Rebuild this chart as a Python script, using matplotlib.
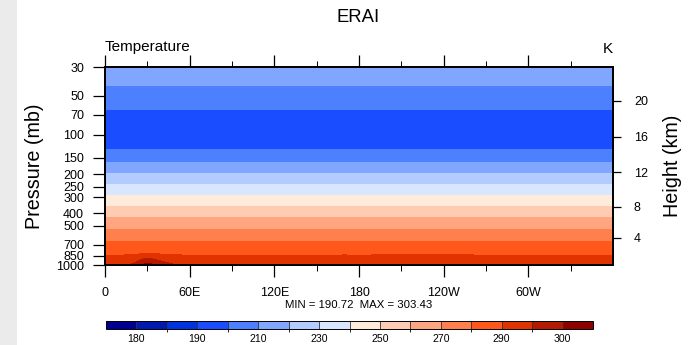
import numpy as np
import matplotlib
matplotlib.use("Agg")
import matplotlib.pyplot as plt
from matplotlib.colors import ListedColormap, BoundaryNorm
from matplotlib.patches import Rectangle

plt.rcParams["font.family"] = ["Liberation Sans", "DejaVu Sans"]

pres = [30, 50, 70, 100, 125, 150, 175, 200, 225, 250, 300, 350, 400, 450, 500,
        550, 600, 650, 700, 750, 775, 800, 825, 850, 875, 900, 925, 950, 975, 1000]
t_mean = [217.5, 206.0, 198.0, 191.5, 199.0, 206.5, 213.8, 220.8, 227.1, 232.6,
          241.9, 249.9, 256.9, 262.7, 267.5, 271.8, 275.7, 279.2, 282.4, 285.3,
          286.7, 288.0, 289.3, 290.6, 291.4, 292.1, 292.7, 293.3, 293.8, 294.3]

# longitudes and near-surface anomaly (warm spot over East Africa)
lon = list(range(0, 361, 10))
t_anom_sfc = [-0.6, -0.3, 0.8, 4.6, 2.0, 0.3, -0.2, -0.3, -0.3, -0.2,
              -0.1, 0.0, 0.0, -0.1, -0.2, 0.0, 0.0, 0.1, 0.0, 0.1,
              0.2, 0.3, 0.3, 0.2, 0.3, 0.2, 0.1, 0.0, 0.0, -0.1,
              -0.2, -0.2, -0.3, -0.3, -0.4, -0.5, -0.6]
sfc_weight = [0, 0, 0, 0, 0, 0, 0, 0, 0, 0, 0, 0, 0, 0, 0,
              0, 0, 0, 0, 0, 0.1, 0.25, 0.35, 0.45, 0.6, 0.8, 0.95, 1.1, 1.5, 1.95]

levels = [180, 185, 190, 200, 210, 220, 230, 240, 250, 260, 270, 280, 290, 295, 300]
colors = ["#000090", "#0019b0", "#0033e0", "#1a4dff", "#4d80ff", "#80a6ff",
          "#b3ccff", "#d9e6ff", "#ffebd9", "#ffccb3", "#ffa680", "#ff804d",
          "#ff581a", "#e03300", "#b31a00", "#8c0000"]
cbar_ticks = [180, 190, 210, 230, 250, 270, 290, 300]

p_ticks = [30, 50, 70, 100, 150, 200, 250, 300, 400, 500, 700, 850, 1000]
lon_ticks = [0, 60, 120, 180, 240, 300]
lon_minor = [30, 90, 150, 210, 270, 330]
lon_labels = ["0", "60E", "120E", "180", "120W", "60W"]
hgt_ticks = [4, 8, 12, 16, 20]


def std_pres(z_km):
    z = z_km * 1000.0
    if z <= 11000:
        return 1013.25 * (1 - 2.25577e-5 * z) ** 5.25588
    return 226.32 * np.exp(-1.5769e-4 * (z - 11000))


T = np.array(t_mean)[:, None] + np.array(sfc_weight)[:, None] * np.array(t_anom_sfc)[None, :]
logp = np.log10(pres)

W, H = 690, 345
fig = plt.figure(figsize=(6.9, 3.45), dpi=100)
fig.add_artist(Rectangle((0, 0), 17 / W, 1, transform=fig.transFigure,
                         facecolor="#ebebeb", edgecolor="none", zorder=-1))

ax = fig.add_axes([105 / W, 1 - 265 / H, 508 / W, 198 / H])
cmap = ListedColormap(colors[1:-1])
cmap.set_under(colors[0])
cmap.set_over(colors[-1])
norm = BoundaryNorm(levels, cmap.N)
cf = ax.contourf(lon, logp, T, levels=levels, cmap=cmap, norm=norm, extend="both")

ax.set_xlim(0, 360)
ax.set_ylim(np.log10(1000), np.log10(30))
ax.set_xticks(lon_ticks)
ax.set_xticklabels(lon_labels)
ax.set_xticks(lon_minor, minor=True)
ax.set_yticks(np.log10(p_ticks))
ax.set_yticklabels([str(p) for p in p_ticks])
ax.tick_params(axis="x", which="major", direction="out", top=True, length=8.5,
               width=0.9, pad=7, labelsize=9)
ax.tick_params(axis="x", which="minor", direction="out", top=True, length=4,
               width=0.7)
ax.tick_params(axis="y", direction="out", length=8.5, width=0.9, pad=6.5, labelsize=9)
for s in ax.spines.values():
    s.set_linewidth(1.3)

ax2 = ax.twinx()
ax2.set_ylim(ax.get_ylim())
ax2.set_yticks([np.log10(std_pres(z)) for z in hgt_ticks])
ax2.set_yticklabels([str(z) for z in hgt_ticks])
ax2.tick_params(axis="y", direction="out", length=6, width=0.9, pad=9, labelsize=9)
for s in ax2.spines.values():
    s.set_linewidth(1.3)

fig.text(358.5 / W, 1 - 18 / H, "ERAI", ha="center", va="center", fontsize=13.3)
fig.text(105 / W, 1 - 51 / H, "Temperature", ha="left", va="baseline", fontsize=11)
fig.text(613 / W, 1 - 53 / H, "K", ha="right", va="baseline", fontsize=11)
fig.text(34 / W, 1 - 166 / H, "Pressure (mb)", ha="center", va="center",
         rotation=90, fontsize=14.2)
fig.text(672 / W, 1 - 166 / H, "Height (km)", ha="center", va="center",
         rotation=90, fontsize=14.2)
fig.text(358.5 / W, 1 - 304.5 / H, "MIN = 190.72  MAX = 303.43", ha="center",
         va="center", fontsize=8.2)

cax = fig.add_axes([106 / W, 1 - 329 / H, 487 / W, 8 / H])
cb = fig.colorbar(cf, cax=cax, orientation="horizontal", extendrect=True,
                  extendfrac=1 / 14, drawedges=True, ticks=cbar_ticks)
cb.outline.set_linewidth(0.7)
cb.dividers.set_color("#333333")
cb.dividers.set_linewidth(0.6)
cax.tick_params(length=0, pad=3.5, labelsize=7.6)
cax.set_xticklabels([str(t) for t in cbar_ticks])

fig.savefig("out.png", dpi=100, facecolor="white")
